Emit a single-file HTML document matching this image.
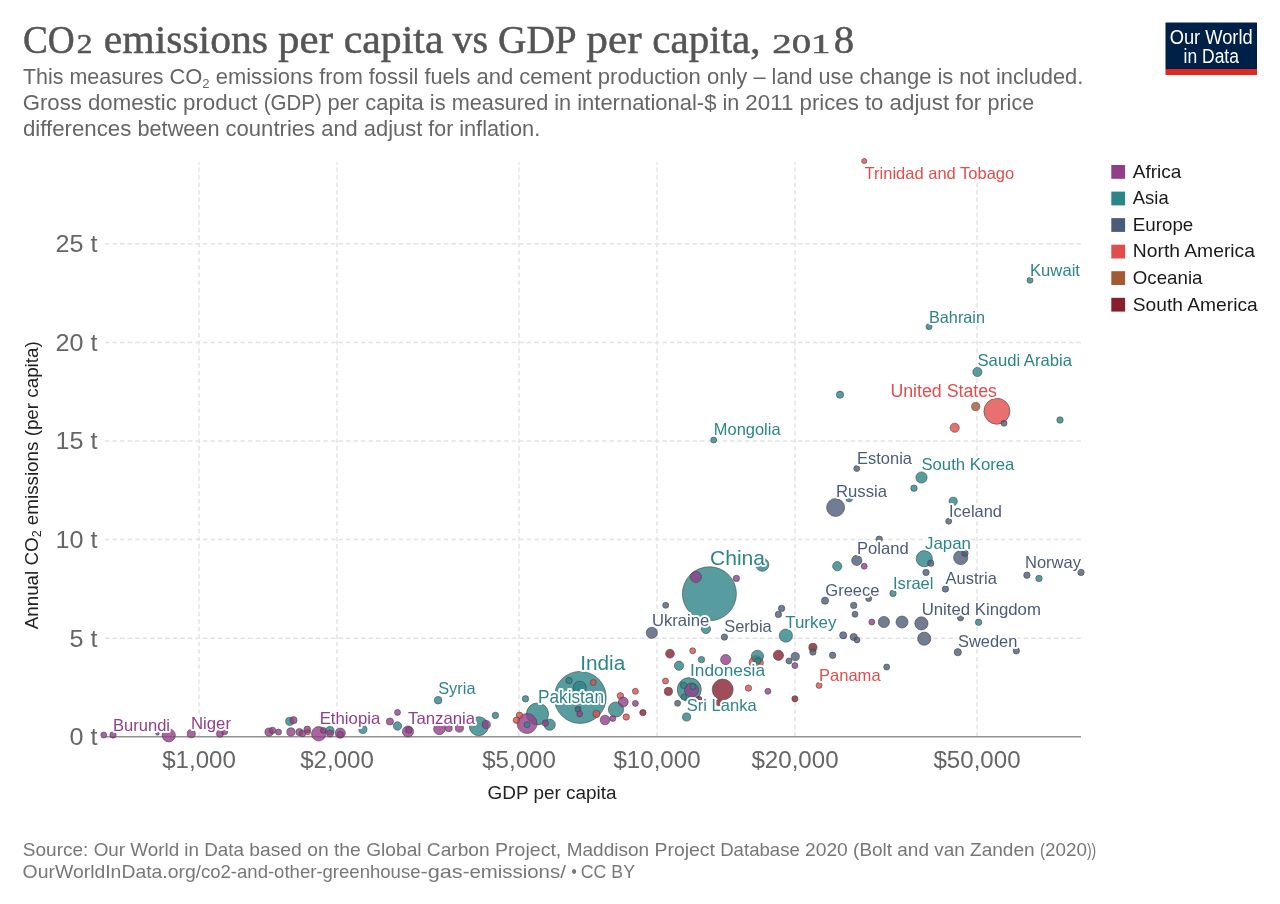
<!DOCTYPE html>
<html lang="en"><head><meta charset="utf-8"><title>CO2 emissions per capita vs GDP per capita, 2018</title>
<style>
html,body{margin:0;padding:0;background:#fff;}
body{width:1280px;height:904px;overflow:hidden;}
svg{display:block;will-change:transform;font-family:"Liberation Sans",sans-serif;}
text{white-space:pre;}
.serif{font-family:"Liberation Serif",serif;}
.grid{stroke:#e3e3e6;stroke-width:1.5;stroke-dasharray:4.52,3.01;fill:none;}
.tick{fill:#666;font-size:24.1px;}
.lbl{paint-order:stroke;stroke:#fff;stroke-width:3.8px;stroke-linejoin:round;}
</style></head><body>
<svg width="1280" height="904" viewBox="0 0 1280 904">
<rect x="0" y="0" width="1280" height="904" fill="#fff"/>
<text class="serif" x="23.05" y="53" font-size="39.5" fill="#555" stroke="#555" stroke-width="0.5" textLength="51.70" lengthAdjust="spacingAndGlyphs">CO</text>
<text class="serif" x="76.80" y="53" font-size="27.5" fill="#555" stroke="#555" stroke-width="0.5" textLength="15.70" lengthAdjust="spacingAndGlyphs">2</text>
<text class="serif" x="103.80" y="53" font-size="39.5" fill="#555" stroke="#555" stroke-width="0.5" textLength="164.20" lengthAdjust="spacingAndGlyphs">emissions</text>
<text class="serif" x="278.05" y="53" font-size="39.5" fill="#555" stroke="#555" stroke-width="0.5" textLength="54.95" lengthAdjust="spacingAndGlyphs">per</text>
<text class="serif" x="343.80" y="53" font-size="39.5" fill="#555" stroke="#555" stroke-width="0.5" textLength="99.70" lengthAdjust="spacingAndGlyphs">capita</text>
<text class="serif" x="452.55" y="53" font-size="39.5" fill="#555" stroke="#555" stroke-width="0.5" textLength="35.45" lengthAdjust="spacingAndGlyphs">vs</text>
<text class="serif" x="498.05" y="53" font-size="39.5" fill="#555" stroke="#555" stroke-width="0.5" textLength="78.70" lengthAdjust="spacingAndGlyphs">GDP</text>
<text class="serif" x="586.30" y="53" font-size="39.5" fill="#555" stroke="#555" stroke-width="0.5" textLength="55.45" lengthAdjust="spacingAndGlyphs">per</text>
<text class="serif" x="652.30" y="53" font-size="39.5" fill="#555" stroke="#555" stroke-width="0.5" textLength="108.20" lengthAdjust="spacingAndGlyphs">capita,</text>
<text class="serif" x="772.30" y="53" font-size="27.5" fill="#555" stroke="#555" stroke-width="0.5" textLength="58.20" lengthAdjust="spacingAndGlyphs">201</text>
<text class="serif" x="833.80" y="53" font-size="39.5" fill="#555" stroke="#555" stroke-width="0.5" textLength="20.45" lengthAdjust="spacingAndGlyphs">8</text>
<text x="23.0" y="84.0" font-size="22.2" fill="#666" textLength="146.50" lengthAdjust="spacingAndGlyphs">This measures </text>
<text x="169.5" y="84.0" font-size="22.2" fill="#666" textLength="46.25" lengthAdjust="spacingAndGlyphs">CO<tspan font-size="13.3" dy="4">2</tspan><tspan dy="-4"> </tspan></text>
<text x="215.75" y="84.0" font-size="22.2" fill="#666" textLength="103.50" lengthAdjust="spacingAndGlyphs">emissions </text>
<text x="319.25" y="84.0" font-size="22.2" fill="#666" textLength="157.15" lengthAdjust="spacingAndGlyphs">from fossil fuels </text>
<text x="476.4" y="84.0" font-size="22.2" fill="#666" textLength="121.40" lengthAdjust="spacingAndGlyphs">and cement </text>
<text x="597.8" y="84.0" font-size="22.2" fill="#666" textLength="155.70" lengthAdjust="spacingAndGlyphs">production only </text>
<text x="753.5" y="84.0" font-size="22.2" fill="#666" textLength="106.00" lengthAdjust="spacingAndGlyphs">– land use </text>
<text x="859.5" y="84.0" font-size="22.2" fill="#666" textLength="136.40" lengthAdjust="spacingAndGlyphs">change is not </text>
<text x="995.9" y="84.0" font-size="22.2" fill="#666" textLength="87.40" lengthAdjust="spacingAndGlyphs">included.</text>
<text x="22.7" y="109.9" font-size="22.2" fill="#666" textLength="160.30" lengthAdjust="spacingAndGlyphs">Gross domestic </text>
<text x="183" y="109.9" font-size="22.2" fill="#666" textLength="80.75" lengthAdjust="spacingAndGlyphs">product </text>
<text x="263.75" y="109.9" font-size="22.2" fill="#666" textLength="63.75" lengthAdjust="spacingAndGlyphs">(GDP) </text>
<text x="327.5" y="109.9" font-size="22.2" fill="#666" textLength="124.20" lengthAdjust="spacingAndGlyphs">per capita is </text>
<text x="451.7" y="109.9" font-size="22.2" fill="#666" textLength="125.50" lengthAdjust="spacingAndGlyphs">measured in </text>
<text x="577.2" y="109.9" font-size="22.2" fill="#666" textLength="145.30" lengthAdjust="spacingAndGlyphs">international-$ </text>
<text x="722.5" y="109.9" font-size="22.2" fill="#666" textLength="22.80" lengthAdjust="spacingAndGlyphs">in </text>
<text x="745.3" y="109.9" font-size="22.2" fill="#666" textLength="54.30" lengthAdjust="spacingAndGlyphs">2011 </text>
<text x="799.6" y="109.9" font-size="22.2" fill="#666" textLength="90.00" lengthAdjust="spacingAndGlyphs">prices to </text>
<text x="889.6" y="109.9" font-size="22.2" fill="#666" textLength="97.90" lengthAdjust="spacingAndGlyphs">adjust for </text>
<text x="987.5" y="109.9" font-size="22.2" fill="#666" textLength="46.60" lengthAdjust="spacingAndGlyphs">price</text>
<text x="22.9" y="135.7" font-size="22.2" fill="#666" textLength="114.60" lengthAdjust="spacingAndGlyphs">differences </text>
<text x="137.5" y="135.7" font-size="22.2" fill="#666" textLength="88.00" lengthAdjust="spacingAndGlyphs">between </text>
<text x="225.5" y="135.7" font-size="22.2" fill="#666" textLength="95.75" lengthAdjust="spacingAndGlyphs">countries </text>
<text x="321.25" y="135.7" font-size="22.2" fill="#666" textLength="107.05" lengthAdjust="spacingAndGlyphs">and adjust </text>
<text x="428.3" y="135.7" font-size="22.2" fill="#666" textLength="30.90" lengthAdjust="spacingAndGlyphs">for </text>
<text x="459.2" y="135.7" font-size="22.2" fill="#666" textLength="81.00" lengthAdjust="spacingAndGlyphs">inflation.</text>
<rect x="1165.5" y="22.5" width="91.5" height="46.8" fill="#002147"/>
<rect x="1165.5" y="69" width="91.5" height="6" fill="#dc2a20"/>
<text x="1169.7" y="43.6" font-size="20.2" fill="#fff" textLength="83" lengthAdjust="spacingAndGlyphs">Our World</text>
<text x="1183.6" y="63.3" font-size="20" fill="#fff" textLength="55.3" lengthAdjust="spacingAndGlyphs">in Data</text>
<line class="grid" x1="105" x2="1081" y1="243.8" y2="243.8"/>
<line class="grid" x1="105" x2="1081" y1="342.4" y2="342.4"/>
<line class="grid" x1="105" x2="1081" y1="441.0" y2="441.0"/>
<line class="grid" x1="105" x2="1081" y1="539.6" y2="539.6"/>
<line class="grid" x1="105" x2="1081" y1="638.2" y2="638.2"/>
<line class="grid" x1="199" x2="199" y1="736.7" y2="162"/>
<line class="grid" x1="337" x2="337" y1="736.7" y2="162"/>
<line class="grid" x1="519" x2="519" y1="736.7" y2="162"/>
<line class="grid" x1="657" x2="657" y1="736.7" y2="162"/>
<line class="grid" x1="795" x2="795" y1="736.7" y2="162"/>
<line class="grid" x1="977" x2="977" y1="736.7" y2="162"/>
<line x1="105" x2="1081" y1="736.7" y2="736.7" stroke="#929292" stroke-width="1.5"/>
<text class="tick" x="55.4" y="252.1" textLength="42" lengthAdjust="spacingAndGlyphs">25 t</text>
<text class="tick" x="55.4" y="350.7" textLength="42" lengthAdjust="spacingAndGlyphs">20 t</text>
<text class="tick" x="55.4" y="449.3" textLength="42" lengthAdjust="spacingAndGlyphs">15 t</text>
<text class="tick" x="55.4" y="547.9" textLength="42" lengthAdjust="spacingAndGlyphs">10 t</text>
<text class="tick" x="69.4" y="646.5" textLength="28" lengthAdjust="spacingAndGlyphs">5 t</text>
<text class="tick" x="69.4" y="745.1" textLength="28" lengthAdjust="spacingAndGlyphs">0 t</text>
<text class="tick" x="199" y="767.9" text-anchor="middle">$1,000</text>
<text class="tick" x="337" y="767.9" text-anchor="middle">$2,000</text>
<text class="tick" x="519" y="767.9" text-anchor="middle">$5,000</text>
<text class="tick" x="657" y="767.9" text-anchor="middle">$10,000</text>
<text class="tick" x="795" y="767.9" text-anchor="middle">$20,000</text>
<text class="tick" x="977" y="767.9" text-anchor="middle">$50,000</text>
<text x="552" y="798.7" font-size="18.8" fill="#222" text-anchor="middle" textLength="129" lengthAdjust="spacingAndGlyphs">GDP per capita</text>
<text transform="translate(37.8,485.3) rotate(-90)" font-size="18.8" fill="#222" text-anchor="middle" textLength="288" lengthAdjust="spacingAndGlyphs">Annual CO<tspan font-size="12.5" dy="3.5">2</tspan><tspan dy="-3.5"> emissions (per capita)</tspan></text>
<g fill-opacity="0.8" stroke="#444" stroke-opacity="0.75" stroke-width="0.8">
<circle cx="103.75" cy="735" r="3" fill="#923E8B"/>
<circle cx="113" cy="735" r="3.2" fill="#923E8B"/>
<circle cx="157.5" cy="733.4" r="1.8" fill="#923E8B"/>
<circle cx="168.75" cy="735.3" r="6.6" fill="#923E8B"/>
<circle cx="191.25" cy="733.7" r="4.1" fill="#923E8B"/>
<circle cx="220" cy="733.7" r="3.6" fill="#923E8B"/>
<circle cx="224.7" cy="731.8" r="3" fill="#923E8B"/>
<circle cx="269" cy="732.1" r="4.1" fill="#923E8B"/>
<circle cx="272.5" cy="730.4" r="3.2" fill="#923E8B"/>
<circle cx="278.5" cy="732.1" r="3" fill="#923E8B"/>
<circle cx="289.75" cy="721.3" r="4.1" fill="#2D8587"/>
<circle cx="293.5" cy="720.2" r="3.6" fill="#923E8B"/>
<circle cx="290.9" cy="731.9" r="4.1" fill="#923E8B"/>
<circle cx="299.4" cy="732.1" r="3.6" fill="#923E8B"/>
<circle cx="302.5" cy="733.5" r="3.2" fill="#923E8B"/>
<circle cx="307.75" cy="731.9" r="2.8" fill="#E04E4B"/>
<circle cx="307.25" cy="729.4" r="3.3" fill="#923E8B"/>
<circle cx="318.75" cy="733.75" r="7.2" fill="#923E8B"/>
<circle cx="323.5" cy="730.4" r="3" fill="#923E8B"/>
<circle cx="330" cy="730.6" r="4.1" fill="#2D8587"/>
<circle cx="330" cy="733.5" r="3.6" fill="#923E8B"/>
<circle cx="340.25" cy="733.1" r="5.1" fill="#923E8B"/>
<circle cx="340.25" cy="734.4" r="3.2" fill="#923E8B"/>
<circle cx="362.9" cy="729.4" r="4.1" fill="#2D8587"/>
<circle cx="389.9" cy="721.5" r="3.6" fill="#923E8B"/>
<circle cx="397.5" cy="712.4" r="3" fill="#923E8B"/>
<circle cx="397.5" cy="726" r="4.2" fill="#2D8587"/>
<circle cx="408" cy="731.5" r="5.6" fill="#923E8B"/>
<circle cx="408.8" cy="730" r="3.2" fill="#923E8B"/>
<circle cx="438.1" cy="700.25" r="3.8" fill="#2D8587"/>
<circle cx="439.4" cy="728.9" r="5.8" fill="#923E8B"/>
<circle cx="448.75" cy="728.1" r="3.6" fill="#923E8B"/>
<circle cx="459.4" cy="728.1" r="4.1" fill="#923E8B"/>
<circle cx="478.75" cy="726.25" r="9.5" fill="#2D8587"/>
<circle cx="486.25" cy="724.6" r="4.1" fill="#923E8B"/>
<circle cx="495.4" cy="715.4" r="3.2" fill="#2D8587"/>
<circle cx="525.5" cy="698.8" r="3.2" fill="#2D8587"/>
<circle cx="537.5" cy="713.9" r="11" fill="#2D8587"/>
<circle cx="527" cy="723.5" r="10" fill="#923E8B"/>
<circle cx="527" cy="724.8" r="3" fill="#2D8587"/>
<circle cx="519.5" cy="715.3" r="3.2" fill="#E04E4B"/>
<circle cx="516.4" cy="720.2" r="3.2" fill="#E04E4B"/>
<circle cx="549.7" cy="724.7" r="5.6" fill="#2D8587"/>
<circle cx="545.3" cy="723.1" r="3.2" fill="#923E8B"/>
<circle cx="580.2" cy="697.4" r="26" fill="#2D8587"/>
<circle cx="569" cy="680.6" r="3.2" fill="#2D8587"/>
<circle cx="579.7" cy="687.7" r="6.6" fill="#2D8587"/>
<circle cx="593.3" cy="682.5" r="3" fill="#E04E4B"/>
<circle cx="578" cy="709.2" r="3" fill="#4C5C78"/>
<circle cx="579.7" cy="713.9" r="3" fill="#923E8B"/>
<circle cx="596.4" cy="713.9" r="3.6" fill="#E04E4B"/>
<circle cx="616" cy="709.5" r="7.6" fill="#2D8587"/>
<circle cx="605" cy="720" r="4.8" fill="#923E8B"/>
<circle cx="612.8" cy="718.5" r="3" fill="#923E8B"/>
<circle cx="620.4" cy="695.8" r="3.2" fill="#E04E4B"/>
<circle cx="623.3" cy="702" r="4.9" fill="#923E8B"/>
<circle cx="626.25" cy="717" r="3.2" fill="#E04E4B"/>
<circle cx="635.4" cy="691.3" r="3" fill="#E04E4B"/>
<circle cx="635.4" cy="703.4" r="3" fill="#923E8B"/>
<circle cx="642.9" cy="712.6" r="3.2" fill="#86202F"/>
<circle cx="670" cy="653.7" r="4.4" fill="#86202F"/>
<circle cx="692.7" cy="650.8" r="3" fill="#E04E4B"/>
<circle cx="679" cy="665.7" r="4.6" fill="#2D8587"/>
<circle cx="665.5" cy="681" r="3" fill="#E04E4B"/>
<circle cx="668.4" cy="691.4" r="4.1" fill="#86202F"/>
<circle cx="677.6" cy="703.3" r="3" fill="#4C5C78"/>
<circle cx="686.6" cy="717" r="4.1" fill="#2D8587"/>
<circle cx="689.3" cy="689.6" r="12" fill="#2D8587"/>
<circle cx="691.5" cy="690" r="7.1" fill="#923E8B"/>
<circle cx="683.5" cy="685.3" r="3.2" fill="#2D8587"/>
<circle cx="692.9" cy="686.6" r="3" fill="#2D8587"/>
<circle cx="684" cy="697" r="3" fill="#2D8587"/>
<circle cx="698.9" cy="699.3" r="3" fill="#86202F"/>
<circle cx="722.7" cy="689.6" r="10.5" fill="#86202F"/>
<circle cx="718.9" cy="702.6" r="3.2" fill="#86202F"/>
<circle cx="748.4" cy="688.1" r="3.2" fill="#E04E4B"/>
<circle cx="767.9" cy="691.3" r="3" fill="#923E8B"/>
<circle cx="701.5" cy="659.6" r="3.2" fill="#2D8587"/>
<circle cx="725.7" cy="659.6" r="5.1" fill="#923E8B"/>
<circle cx="756.25" cy="662.8" r="7.1" fill="#E04E4B"/>
<circle cx="757.4" cy="656.25" r="6.1" fill="#2D8587"/>
<circle cx="757.75" cy="661" r="3.2" fill="#2D8587"/>
<circle cx="778.4" cy="655.3" r="5.1" fill="#86202F"/>
<circle cx="795.25" cy="656.6" r="4.1" fill="#4C5C78"/>
<circle cx="789" cy="661" r="3" fill="#4C5C78"/>
<circle cx="794.9" cy="665.6" r="3" fill="#923E8B"/>
<circle cx="794.9" cy="698.8" r="3.1" fill="#86202F"/>
<circle cx="819.1" cy="685.4" r="3" fill="#E04E4B"/>
<circle cx="812.9" cy="647.4" r="4.1" fill="#86202F"/>
<circle cx="812.9" cy="652" r="3.2" fill="#4C5C78"/>
<circle cx="832.6" cy="655.3" r="3.2" fill="#4C5C78"/>
<circle cx="709.4" cy="593.75" r="27" fill="#2D8587"/>
<circle cx="695.9" cy="576.9" r="5.6" fill="#923E8B"/>
<circle cx="736.4" cy="578.4" r="3.2" fill="#923E8B"/>
<circle cx="762.25" cy="564.7" r="6.6" fill="#2D8587"/>
<circle cx="665.7" cy="605.25" r="3" fill="#4C5C78"/>
<circle cx="651.8" cy="632.8" r="5.6" fill="#4C5C78"/>
<circle cx="706" cy="629" r="4.6" fill="#2D8587"/>
<circle cx="724.4" cy="637.1" r="3.2" fill="#4C5C78"/>
<circle cx="781.6" cy="608.4" r="3.2" fill="#4C5C78"/>
<circle cx="778.4" cy="614.4" r="3.2" fill="#4C5C78"/>
<circle cx="785.9" cy="635.6" r="6.6" fill="#2D8587"/>
<circle cx="825" cy="600.7" r="3.6" fill="#4C5C78"/>
<circle cx="853.7" cy="605.4" r="3.2" fill="#4C5C78"/>
<circle cx="868.7" cy="598.6" r="3" fill="#4C5C78"/>
<circle cx="855" cy="614.3" r="3" fill="#4C5C78"/>
<circle cx="871.8" cy="622" r="3" fill="#923E8B"/>
<circle cx="883.9" cy="622" r="5.6" fill="#4C5C78"/>
<circle cx="902" cy="622" r="6.0" fill="#4C5C78"/>
<circle cx="921.4" cy="623.4" r="6.6" fill="#4C5C78"/>
<circle cx="924.2" cy="638.7" r="6.6" fill="#4C5C78"/>
<circle cx="960.5" cy="618" r="3" fill="#4C5C78"/>
<circle cx="978.6" cy="622.3" r="3.2" fill="#2D8587"/>
<circle cx="843.2" cy="635.3" r="3.6" fill="#4C5C78"/>
<circle cx="853.7" cy="637" r="3.6" fill="#4C5C78"/>
<circle cx="857" cy="639.9" r="3" fill="#4C5C78"/>
<circle cx="957.8" cy="652.2" r="3.6" fill="#4C5C78"/>
<circle cx="1016.3" cy="650.8" r="3.2" fill="#4C5C78"/>
<circle cx="886.7" cy="667" r="3" fill="#4C5C78"/>
<circle cx="893" cy="593.4" r="3.2" fill="#2D8587"/>
<circle cx="945.4" cy="589" r="3.2" fill="#4C5C78"/>
<circle cx="837.25" cy="566.2" r="4.6" fill="#2D8587"/>
<circle cx="856.75" cy="560.4" r="5.1" fill="#4C5C78"/>
<circle cx="864.2" cy="566.2" r="3" fill="#923E8B"/>
<circle cx="879.2" cy="539.2" r="3.2" fill="#4C5C78"/>
<circle cx="924.3" cy="558.7" r="8.1" fill="#2D8587"/>
<circle cx="930.7" cy="563.2" r="3.2" fill="#4C5C78"/>
<circle cx="926" cy="572.4" r="3.2" fill="#4C5C78"/>
<circle cx="960.7" cy="557.6" r="7.1" fill="#4C5C78"/>
<circle cx="965" cy="553.25" r="3.2" fill="#4C5C78"/>
<circle cx="1026.9" cy="575.2" r="3.2" fill="#4C5C78"/>
<circle cx="1039" cy="578.4" r="3.2" fill="#2D8587"/>
<circle cx="1081" cy="572.4" r="3.2" fill="#4C5C78"/>
<circle cx="948.7" cy="521.2" r="3" fill="#4C5C78"/>
<circle cx="953.2" cy="501.3" r="4.1" fill="#2D8587"/>
<circle cx="921.5" cy="477.5" r="5.6" fill="#2D8587"/>
<circle cx="914" cy="488.2" r="3.2" fill="#2D8587"/>
<circle cx="856.75" cy="468.5" r="3" fill="#4C5C78"/>
<circle cx="835.6" cy="507.5" r="9" fill="#4C5C78"/>
<circle cx="849.2" cy="498.6" r="3.3" fill="#2D8587"/>
<circle cx="713.7" cy="440" r="3" fill="#2D8587"/>
<circle cx="840" cy="394.7" r="3.6" fill="#2D8587"/>
<circle cx="1030" cy="280.2" r="3" fill="#2D8587"/>
<circle cx="929" cy="326.7" r="3" fill="#2D8587"/>
<circle cx="977.4" cy="372" r="4.6" fill="#2D8587"/>
<circle cx="975.7" cy="406.6" r="4.1" fill="#A15A34"/>
<circle cx="996.9" cy="411.25" r="13" fill="#E04E4B"/>
<circle cx="1004" cy="423.25" r="3" fill="#4C5C78"/>
<circle cx="954.7" cy="427.75" r="4.6" fill="#E04E4B"/>
<circle cx="1060" cy="420" r="3.2" fill="#2D8587"/>
<circle cx="864.25" cy="161" r="2.6" fill="#E04E4B"/>
</g>
<text class="lbl" x="864.6" y="178.7" font-size="16.5" fill="#E04E4B" textLength="149.6" lengthAdjust="spacingAndGlyphs">Trinidad and Tobago</text>
<text class="lbl" x="1030" y="275.7" font-size="16.5" fill="#2D8587" textLength="50" lengthAdjust="spacingAndGlyphs">Kuwait</text>
<text class="lbl" x="929" y="322.7" font-size="16.5" fill="#2D8587" textLength="56" lengthAdjust="spacingAndGlyphs">Bahrain</text>
<text class="lbl" x="977.5" y="365.7" font-size="16.5" fill="#2D8587" textLength="94.5" lengthAdjust="spacingAndGlyphs">Saudi Arabia</text>
<text class="lbl" x="890.4" y="396.7" font-size="18" fill="#E04E4B" textLength="106.6" lengthAdjust="spacingAndGlyphs">United States</text>
<text class="lbl" x="713.8" y="435.1" font-size="16.5" fill="#2D8587" textLength="66.8" lengthAdjust="spacingAndGlyphs">Mongolia</text>
<text class="lbl" x="857" y="464.0" font-size="16.5" fill="#4C5C78" textLength="55" lengthAdjust="spacingAndGlyphs">Estonia</text>
<text class="lbl" x="921.4" y="470.1" font-size="16.5" fill="#2D8587" textLength="93" lengthAdjust="spacingAndGlyphs">South Korea</text>
<text class="lbl" x="836" y="497.0" font-size="17" fill="#4C5C78" textLength="51" lengthAdjust="spacingAndGlyphs">Russia</text>
<text class="lbl" x="949" y="517.0" font-size="16.5" fill="#4C5C78" textLength="53" lengthAdjust="spacingAndGlyphs">Iceland</text>
<text class="lbl" x="925" y="549.3" font-size="17" fill="#2D8587" textLength="46" lengthAdjust="spacingAndGlyphs">Japan</text>
<text class="lbl" x="857" y="553.7" font-size="16.5" fill="#4C5C78" textLength="51.8" lengthAdjust="spacingAndGlyphs">Poland</text>
<text class="lbl" x="710" y="565.0" font-size="21" fill="#2D8587" textLength="55" lengthAdjust="spacingAndGlyphs">China</text>
<text class="lbl" x="1025" y="567.7" font-size="16.5" fill="#4C5C78" textLength="56" lengthAdjust="spacingAndGlyphs">Norway</text>
<text class="lbl" x="945.6" y="583.9" font-size="16.5" fill="#4C5C78" textLength="51.2" lengthAdjust="spacingAndGlyphs">Austria</text>
<text class="lbl" x="893" y="588.7" font-size="16.5" fill="#2D8587" textLength="40.5" lengthAdjust="spacingAndGlyphs">Israel</text>
<text class="lbl" x="825.3" y="596.0" font-size="16.5" fill="#4C5C78" textLength="54.2" lengthAdjust="spacingAndGlyphs">Greece</text>
<text class="lbl" x="921.7" y="615.3" font-size="16.5" fill="#4C5C78" textLength="119.2" lengthAdjust="spacingAndGlyphs">United Kingdom</text>
<text class="lbl" x="652" y="626.0" font-size="16.5" fill="#4C5C78" textLength="57.3" lengthAdjust="spacingAndGlyphs">Ukraine</text>
<text class="lbl" x="785.2" y="627.7" font-size="16.5" fill="#2D8587" textLength="51.2" lengthAdjust="spacingAndGlyphs">Turkey</text>
<text class="lbl" x="724.2" y="632.4" font-size="16.5" fill="#4C5C78" textLength="47.5" lengthAdjust="spacingAndGlyphs">Serbia</text>
<text class="lbl" x="958" y="647.2" font-size="16.5" fill="#4C5C78" textLength="59.3" lengthAdjust="spacingAndGlyphs">Sweden</text>
<text class="lbl" x="580.2" y="669.7" font-size="20" fill="#2D8587" textLength="45" lengthAdjust="spacingAndGlyphs">India</text>
<text class="lbl" x="690" y="676.4" font-size="17" fill="#2D8587" textLength="75" lengthAdjust="spacingAndGlyphs">Indonesia</text>
<text class="lbl" x="819" y="680.7" font-size="16.5" fill="#E04E4B" textLength="61.6" lengthAdjust="spacingAndGlyphs">Panama</text>
<text class="lbl" x="438.2" y="694.4" font-size="16.5" fill="#2D8587" textLength="37.3" lengthAdjust="spacingAndGlyphs">Syria</text>
<text class="lbl" x="538" y="702.7" font-size="18" fill="#2D8587" textLength="66" lengthAdjust="spacingAndGlyphs">Pakistan</text>
<text class="lbl" x="686.7" y="711.4" font-size="16.5" fill="#2D8587" textLength="70" lengthAdjust="spacingAndGlyphs">Sri Lanka</text>
<text class="lbl" x="113" y="730.7" font-size="16.5" fill="#923E8B" textLength="57" lengthAdjust="spacingAndGlyphs">Burundi</text>
<text class="lbl" x="191" y="728.7" font-size="16.5" fill="#923E8B" textLength="40" lengthAdjust="spacingAndGlyphs">Niger</text>
<text class="lbl" x="319.7" y="724.4" font-size="16.5" fill="#923E8B" textLength="60.6" lengthAdjust="spacingAndGlyphs">Ethiopia</text>
<text class="lbl" x="408" y="724.4" font-size="16.5" fill="#923E8B" textLength="67.2" lengthAdjust="spacingAndGlyphs">Tanzania</text>
<rect x="1111.3" y="165.0" width="13.8" height="13.8" fill="#923E8B"/>
<text x="1132.8" y="177.8" font-size="19" fill="#1a1a1a" textLength="48.6" lengthAdjust="spacingAndGlyphs">Africa</text>
<rect x="1111.3" y="191.6" width="13.8" height="13.8" fill="#2D8587"/>
<text x="1132.8" y="204.4" font-size="19" fill="#1a1a1a" textLength="35.9" lengthAdjust="spacingAndGlyphs">Asia</text>
<rect x="1111.3" y="218.1" width="13.8" height="13.8" fill="#4C5C78"/>
<text x="1132.8" y="230.9" font-size="19" fill="#1a1a1a" textLength="60.5" lengthAdjust="spacingAndGlyphs">Europe</text>
<rect x="1111.3" y="244.7" width="13.8" height="13.8" fill="#E04E4B"/>
<text x="1132.8" y="257.4" font-size="19" fill="#1a1a1a" textLength="122.2" lengthAdjust="spacingAndGlyphs">North America</text>
<rect x="1111.3" y="271.2" width="13.8" height="13.8" fill="#A15A34"/>
<text x="1132.8" y="284.0" font-size="19" fill="#1a1a1a" textLength="69.7" lengthAdjust="spacingAndGlyphs">Oceania</text>
<rect x="1111.3" y="297.8" width="13.8" height="13.8" fill="#86202F"/>
<text x="1132.8" y="310.6" font-size="19" fill="#1a1a1a" textLength="124.9" lengthAdjust="spacingAndGlyphs">South America</text>
<text x="22.8" y="855.8" font-size="19" fill="#777" textLength="70.90" lengthAdjust="spacingAndGlyphs">Source: </text>
<text x="93.7" y="855.8" font-size="19" fill="#777" textLength="155.50" lengthAdjust="spacingAndGlyphs">Our World in Data </text>
<text x="249.2" y="855.8" font-size="19" fill="#777" textLength="117.00" lengthAdjust="spacingAndGlyphs">based on the </text>
<text x="366.2" y="855.8" font-size="19" fill="#777" textLength="128.80" lengthAdjust="spacingAndGlyphs">Global Carbon </text>
<text x="495" y="855.8" font-size="19" fill="#777" textLength="71.70" lengthAdjust="spacingAndGlyphs">Project, </text>
<text x="566.7" y="855.8" font-size="19" fill="#777" textLength="87.80" lengthAdjust="spacingAndGlyphs">Maddison </text>
<text x="654.5" y="855.8" font-size="19" fill="#777" textLength="65.70" lengthAdjust="spacingAndGlyphs">Project </text>
<text x="720.2" y="855.8" font-size="19" fill="#777" textLength="84.80" lengthAdjust="spacingAndGlyphs">Database </text>
<text x="805" y="855.8" font-size="19" fill="#777" textLength="48.10" lengthAdjust="spacingAndGlyphs">2020 </text>
<text x="853.1" y="855.8" font-size="19" fill="#777" textLength="116.90" lengthAdjust="spacingAndGlyphs">(Bolt and van </text>
<text x="970" y="855.8" font-size="19" fill="#777" textLength="70.00" lengthAdjust="spacingAndGlyphs">Zanden </text>
<text x="1040.0" y="855.8" font-size="19" fill="#777" textLength="5.00" lengthAdjust="spacingAndGlyphs">(</text>
<text x="1045.0" y="855.8" font-size="19" fill="#777" textLength="41.90" lengthAdjust="spacingAndGlyphs">2020</text>
<text x="1086.9" y="855.8" font-size="19" fill="#777" textLength="9.30" lengthAdjust="spacingAndGlyphs">))</text>
<text x="22.6" y="877.5" font-size="19" fill="#777" textLength="173.20" lengthAdjust="spacingAndGlyphs">OurWorldInData.org</text>
<text x="195.8" y="877.5" font-size="19" fill="#777" textLength="224.70" lengthAdjust="spacingAndGlyphs">/co2-and-other-greenhouse</text>
<text x="420.5" y="877.5" font-size="19" fill="#777" textLength="42.20" lengthAdjust="spacingAndGlyphs">-gas</text>
<text x="462.7" y="877.5" font-size="19" fill="#777" textLength="108.80" lengthAdjust="spacingAndGlyphs">-emissions/ </text>
<text x="571.5" y="877.5" font-size="19" fill="#777" textLength="9.30" lengthAdjust="spacingAndGlyphs">• </text>
<text x="580.8" y="877.5" font-size="19" fill="#777" textLength="54.20" lengthAdjust="spacingAndGlyphs">CC BY</text>
</svg></body></html>
